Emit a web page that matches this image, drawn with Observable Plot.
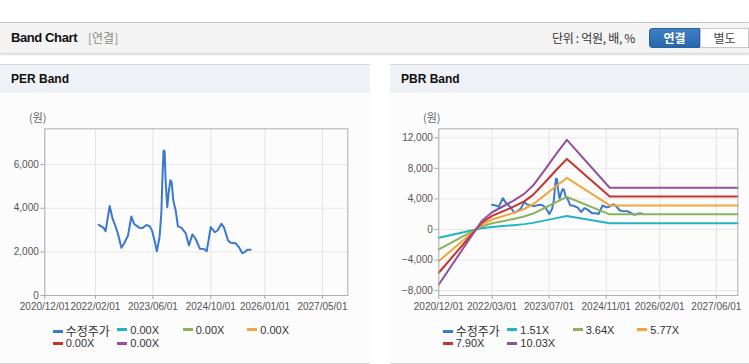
<!DOCTYPE html>
<html><head><meta charset="utf-8">
<script src="https://cdn.jsdelivr.net/npm/d3@7"></script>
<script src="https://cdn.jsdelivr.net/npm/@observablehq/plot@0.6"></script>
<style>
html,body{margin:0;padding:0;background:#fff;}
body{width:749px;height:364px;position:relative;overflow:hidden;font-family:"Liberation Sans","Noto Sans CJK KR",sans-serif;}
.abs{position:absolute;}
#topline{left:0;top:22px;width:749px;height:1px;background:#c9c9c9;}
#hdr{left:0;top:23px;width:749px;height:30px;background:#f4f4f4;border-bottom:1px solid #d8d8d8;box-shadow:0 1px 2px rgba(0,0,0,0.12);}
#title{left:11px;top:30px;font-size:13px;font-weight:bold;color:#111;letter-spacing:-0.4px;}
#sub{left:88px;top:31px;font-size:12px;color:#8a8a8a;font-family:"Noto Sans CJK KR";line-height:14px;}
#unit{left:552px;top:30px;font-size:12px;color:#333;font-family:"Noto Sans CJK KR";line-height:16px;letter-spacing:-0.3px;}
#btn1{left:649px;top:28px;width:51px;height:20px;background:linear-gradient(#3f7fc4,#2a66ac);border:1px solid #2a5f9e;border-radius:3px 0 0 3px;color:#fff;font-weight:bold;font-size:12px;text-align:center;line-height:18px;font-family:"Noto Sans CJK KR";box-sizing:border-box;}
#btn2{left:700px;top:28px;width:49px;height:20px;background:#fff;border:1px solid #c8c8c8;color:#444;font-size:12px;text-align:center;line-height:18px;font-family:"Noto Sans CJK KR";box-sizing:border-box;}
.panel{top:64px;height:298px;background:#fcfcfd;border-top:1px solid #d6d6d6;border-bottom:1px solid #d6d6d6;}
.phead{top:65px;height:28px;background:#eef2f7;}
.ptitle{top:72px;font-size:12px;font-weight:bold;color:#111;}
.unitlab{top:110px;font-size:11px;color:#666;font-family:"Noto Sans CJK KR";line-height:14px;}
.chart{top:100px;}
.leg{font-size:11px;color:#333;line-height:13px;white-space:nowrap;}
.sw{display:inline-block;width:10px;height:3px;vertical-align:middle;margin-right:3px;position:relative;top:-1px;}
</style></head>
<body>
<div id="topline" class="abs"></div>
<div id="hdr" class="abs"></div>
<div id="title" class="abs">Band Chart</div>
<div id="sub" class="abs">[연결]</div>
<div id="unit" class="abs">단위 : 억원, 배, %</div>
<div id="btn1" class="abs">연결</div>
<div id="btn2" class="abs">별도</div>

<div class="abs panel" style="left:0;width:370px;"></div>
<div class="abs phead" style="left:0;width:370px;"></div>
<div class="abs ptitle" style="left:11px;">PER Band</div>
<div class="abs unitlab" style="left:29px;">(원)</div>
<div id="perChart" class="abs chart" style="left:0;"></div>

<div class="abs panel" style="left:390px;width:359px;"></div>
<div class="abs phead" style="left:390px;width:359px;"></div>
<div class="abs ptitle" style="left:401px;">PBR Band</div>
<div class="abs unitlab" style="left:423px;">(원)</div>
<div id="pbrChart" class="abs chart" style="left:390px;"></div>

<script>
// ---- data ----
const priceDates = ["2022-03-01","2022-04-09","2022-04-28","2022-06-01","2022-06-26","2022-07-21","2022-08-10","2022-09-08","2022-09-30","2022-11-03","2022-12-01","2022-12-23","2023-02-04","2023-03-03","2023-04-08","2023-05-06","2023-05-26","2023-06-15","2023-07-04","2023-07-27","2023-08-11","2023-08-22","2023-08-30","2023-09-08","2023-09-16","2023-09-30","2023-10-14","2023-10-26","2023-11-06","2023-11-20","2023-12-10","2023-12-29","2024-01-27","2024-03-03","2024-03-31","2024-04-29","2024-05-26","2024-07-02","2024-08-05","2024-08-28","2024-10-01","2024-11-04","2024-11-27","2024-12-30","2025-01-21","2025-02-24","2025-03-17","2025-04-28","2025-05-26","2025-06-24","2025-07-15","2025-08-05","2025-09-03"];
const priceValues = [3240,3110,2950,4100,3520,3170,2830,2190,2370,2750,3620,3290,3110,3090,3230,3170,2950,2520,2030,2680,3750,5660,6650,6600,5280,4050,4820,5280,5200,4360,3900,3170,3110,2860,2290,2800,2600,2140,2130,2030,3140,2900,2980,3290,3110,2520,2420,2400,2220,1940,1990,2100,2100];

const bandDates = ["2020-12-01","2021-12-01","2022-03-01","2022-06-01","2022-09-01","2022-12-01","2023-02-15","2023-06-01","2023-09-01","2023-12-01","2024-12-01","2027-12-01"];
const band151  = [-1083,163,340,453,571,702,865,1194,1489,1767,823,823];
const band364  = [-2610,393,819,1092,1376,1693,2086,2879,3589,4259,1984,1984];
const band577  = [-4137,623,1298,1731,2181,2683,3306,4564,5689,6751,3145,3145];
const band790  = [-5664,853,1778,2370,2986,3674,4527,6249,7789,9243,4306,4306];
const band1003 = [-7192,1083,2257,3009,3791,4664,5747,7934,9890,11735,5466,5466];

const seriesColors = ["#3a79cc","#22b4c4","#8db35a","#f1a73c","#c6332d","#93519b"];
const perLegend = ["수정주가","0.00X","0.00X","0.00X","0.00X","0.00X"];
const pbrLegend = ["수정주가","1.51X","3.64X","5.77X","7.90X","10.03X"];

const perXTicks = ["2020-12-01","2022-02-01","2023-06-01","2024-10-01","2026-01-01","2027-05-01"];
const pbrXTicks = ["2020-12-01","2022-03-01","2023-07-01","2024-11-01","2026-02-01","2027-06-01"];
const perYTicks = [0,2000,4000,6000];
const pbrYTicks = [-8000,-4000,0,4000,8000,12000];
const xDomain = ["2020-12-01","2027-12-01"];
const perYDomain = [0,7640];
const pbrYDomain = [-8640,13180];

// ---- build ----
const P = s => d3.utcParse("%Y-%m-%d")(s);
const fmtDate = d3.utcFormat("%Y/%m/%d");
const fmtNum = d3.format(",");
const price = priceDates.map((d,i)=>({date:P(d), value:priceValues[i]}));
const bandSets = [band151, band364, band577, band790, band1003];
const bands = bandSets.map(arr => bandDates.map((d,i)=>({date:P(d), value:arr[i]})));

function chart(opts){
  const xT = opts.xTicks.map(P);
  const marks = [
    Plot.gridX(xT, {stroke:"#e4e4e4", strokeOpacity:1}),
    Plot.gridY(opts.yTicks, {stroke:"#e8e8e8", strokeOpacity:1}),
    Plot.axisX(xT, {tickFormat:fmtDate, tickSize:4, tickPadding:3, stroke:"#aaa", label:null, fill:"#555"}),
    Plot.axisY(opts.yTicks, {tickFormat:fmtNum, tickSize:4, tickPadding:2, stroke:"#aaa", label:null, fill:"#555"}),
    Plot.lineY(price, {x:"date", y:"value", stroke:seriesColors[0], strokeWidth:2})
  ];
  if (opts.bands) opts.bands.forEach((b,i)=>marks.push(Plot.lineY(b,{x:"date", y:"value", stroke:seriesColors[i+1], strokeWidth:2})));
  marks.push(Plot.frame({stroke:"#b0b0b0"}));
  return Plot.plot({
    width: opts.width, height: 215,
    marginTop: 28.3, marginBottom: 20, marginLeft: opts.ml, marginRight: opts.mr,
    style:{fontFamily:"'Liberation Sans',sans-serif", fontSize:"10px", background:"transparent", color:"#555"},
    x:{type:"utc", domain: xDomain.map(P)},
    y:{domain: opts.yDomain},
    marks
  });
}
document.getElementById("perChart").appendChild(chart({width:370, ml:44.3, mr:22.7, xTicks:perXTicks, yTicks:perYTicks, yDomain:perYDomain}));
document.getElementById("pbrChart").appendChild(chart({width:359, ml:48.3, mr:11.7, xTicks:pbrXTicks, yTicks:pbrYTicks, yDomain:pbrYDomain, bands}));

function legend(left, names){
  const cols = [52.7, 117.3, 182.7, 247.3];
  names.forEach((n,i)=>{
    const el = document.createElement("div");
    el.className = "abs leg";
    el.style.left = (left + cols[i%4]) + "px";
    el.style.top = (i<4 ? 323.5 : 337) + "px";
    el.innerHTML = `<span class="sw" style="background:${seriesColors[i]}"></span>`;
    const t = document.createElement("span");
    t.textContent = n;
    if (/[가-힣]/.test(n)) { t.style.fontFamily = "'Noto Sans CJK KR'"; t.style.fontSize="12px"; }
    el.appendChild(t);
    document.body.appendChild(el);
  });
}
legend(0, perLegend);
legend(390, pbrLegend);
</script>
</body></html>
